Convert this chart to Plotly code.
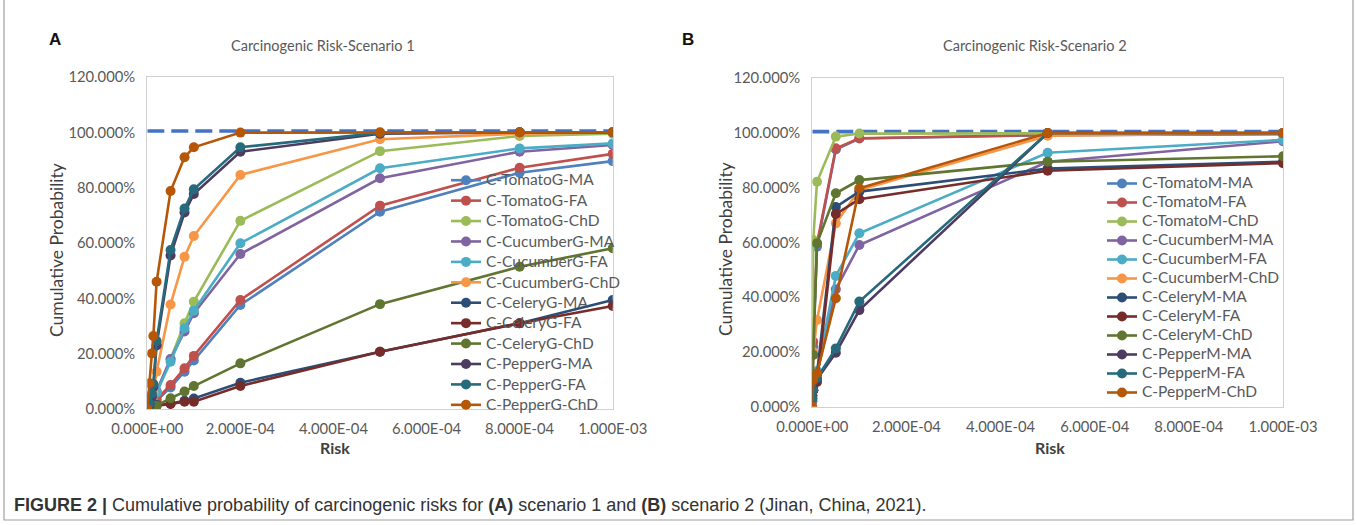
import plotly.graph_objects as go

W, H = 1357, 525

# ---------------- data ----------------
risk_A = [0, 5e-6, 1e-5, 1.3e-5, 2e-5, 5e-5, 8e-5, 1e-4, 2e-4, 5e-4, 8e-4, 1e-3]
names_A = ["C-TomatoG-MA", "C-TomatoG-FA", "C-TomatoG-ChD",
           "C-CucumberG-MA", "C-CucumberG-FA", "C-CucumberG-ChD",
           "C-CeleryG-MA", "C-CeleryG-FA", "C-CeleryG-ChD",
           "C-PepperG-MA", "C-PepperG-FA", "C-PepperG-ChD"]
tomatoG_MA = [0, 0.5, 1, 1.5, 3, 7.8, 13.5, 17.5, 37.6, 71.3, 85.4, 89.6]
tomatoG_FA = [0, 0.5, 1, 1.5, 3.5, 8.7, 14.7, 19.2, 39.4, 73.5, 87.2, 92.2]
tomatoG_ChD = [0, 1, 2, 3, 6, 18, 31, 38.8, 68, 93.2, 98.7, 99.5]
cucumberG_MA = [0, 1, 2, 3, 6.5, 18.1, 28, 34.6, 56, 83.4, 93, 95.4]
cucumberG_FA = [0, 1, 2, 3, 6, 17.1, 29.2, 35.5, 59.9, 87, 94.2, 96]
cucumberG_ChD = [0, 2, 4, 6, 13.5, 37.8, 55, 62.5, 84.6, 97.5, 99.5, 100]
celeryG_MA = [0, 0.3, 0.5, 0.8, 1.5, 2, 3, 3.8, 9.5, 20.7, 31, 39.4]
celeryG_FA = [0, 0.3, 0.5, 0.8, 1.2, 1.8, 2.6, 2.6, 8.3, 20.7, 31, 37.2]
celeryG_ChD = [0, 0.3, 0.6, 0.9, 1.2, 3.9, 6.3, 8.3, 16.5, 37.9, 51.4, 58.1]
pepperG_MA = [0, 1.5, 4.5, 8, 23, 55.5, 71, 77.7, 93, 99.5, 100, 100]
pepperG_FA = [0, 2, 5.5, 9, 24.6, 57.5, 72.5, 79.4, 94.6, 99.8, 100, 100]
pepperG_ChD = [0, 9.3, 20.1, 26.4, 46, 78.8, 91, 94.6, 99.9, 100, 100, 100]
values_A = [tomatoG_MA, tomatoG_FA, tomatoG_ChD, cucumberG_MA, cucumberG_FA, cucumberG_ChD,
            celeryG_MA, celeryG_FA, celeryG_ChD, pepperG_MA, pepperG_FA, pepperG_ChD]

risk_B = [0, 2e-6, 1e-5, 5e-5, 1e-4, 5e-4, 1e-3]
names_B = ["C-TomatoM-MA", "C-TomatoM-FA", "C-TomatoM-ChD",
           "C-CucumberM-MA", "C-CucumberM-FA", "C-CucumberM-ChD",
           "C-CeleryM-MA", "C-CeleryM-FA", "C-CeleryM-ChD",
           "C-PepperM-MA", "C-PepperM-FA", "C-PepperM-ChD"]
tomatoM_MA = [2, 22, 58.5, 94, 98, 99.2, 99.6]
tomatoM_FA = [4, 23.7, 59.7, 94.4, 98.1, 99.3, 99.7]
tomatoM_ChD = [3, 60.9, 82.2, 98.7, 99.8, 99.9, 100]
cucumberM_MA = [2, 6, 12, 42.9, 59.1, 89.5, 97]
cucumberM_FA = [3, 7, 13, 47.8, 63.4, 92.8, 97.5]
cucumberM_ChD = [8, 20, 31.7, 67, 79.2, 99, 100]
celeryM_MA = [4, 8, 12, 73, 78.6, 87, 89.5]
celeryM_FA = [4, 6, 9, 70.4, 75.8, 86.2, 89]
celeryM_ChD = [6, 18.9, 59.7, 78, 82.8, 89.5, 91.5]
pepperM_MA = [3, 6, 10, 19.7, 35.3, 100, 100]
pepperM_FA = [3, 6, 10.5, 21.3, 38.4, 100, 100]
pepperM_ChD = [0, 9.8, 12.2, 39.6, 79.8, 100, 100]
values_B = [tomatoM_MA, tomatoM_FA, tomatoM_ChD, cucumberM_MA, cucumberM_FA, cucumberM_ChD,
            celeryM_MA, celeryM_FA, celeryM_ChD, pepperM_MA, pepperM_FA, pepperM_ChD]

ref_x = [0, 1e-3]
ref_y = [100.5, 100.5]

x_tickvals = [0, 2e-4, 4e-4, 6e-4, 8e-4, 1e-3]
x_ticktext = ["0.000E+00", "2.000E-04", "4.000E-04", "6.000E-04", "8.000E-04", "1.000E-03"]
y_tickvals = [0, 0.2, 0.4, 0.6, 0.8, 1.0, 1.2]

# ---------------- styles ----------------
colors = ["#4F81BD", "#C0504D", "#9BBB59", "#8064A2", "#4BACC6", "#F79646",
          "#2C4D75", "#772C2A", "#5F7530", "#4D3B62", "#276A7C", "#B65708"]
FONT = "Lato, 'Open Sans', sans-serif"
GRAY = "#595959"


def px(x):
    return x / W


def py(y):
    return 1 - y / H


def leg_label(name):
    return '<span style="font-size:15.5px">' + name + '</span>'


fig = go.Figure()

for xa, ya in [("x", "y"), ("x2", "y2")]:
    fig.add_trace(go.Scatter(x=ref_x, y=[v / 100 for v in ref_y], mode="lines",
                             line=dict(color="#4472C4", width=3.6, dash="17px,7px"),
                             showlegend=False, hoverinfo="skip", xaxis=xa, yaxis=ya))

for name, vals, col in zip(names_A, values_A, colors):
    fig.add_trace(go.Scatter(
        x=risk_A, y=[v / 100 for v in vals], mode="lines+markers", name=leg_label(name),
        line=dict(color=col, width=2.6), marker=dict(size=10, color=col),
        xaxis="x", yaxis="y", legend="legend"))

for name, vals, col in zip(names_B, values_B, colors):
    fig.add_trace(go.Scatter(
        x=risk_B, y=[v / 100 for v in vals], mode="lines+markers", name=leg_label(name),
        line=dict(color=col, width=2.6), marker=dict(size=10, color=col),
        xaxis="x2", yaxis="y2", legend="legend2"))

axis_common = dict(showgrid=False, zeroline=False, showline=True, mirror=True,
                   linecolor="#D0D0D0", linewidth=1.2, ticks="", automargin=False,
                   tickfont=dict(family=FONT, size=14.8, color=GRAY))

fig.update_layout(
    template="none",
    width=W, height=H,
    margin=dict(l=0, r=0, t=0, b=0, autoexpand=False),
    paper_bgcolor="white", plot_bgcolor="white",
    font=dict(family=FONT, color=GRAY),
    xaxis=dict(domain=[px(147.3), px(612.7)], range=[0, 1e-3], tickvals=x_tickvals,
               ticktext=x_ticktext, anchor="y", ticklabelstandoff=6, **axis_common),
    yaxis=dict(domain=[py(409), py(77)], range=[0, 1.2], tickvals=y_tickvals,
               tickformat=".3%", anchor="x", ticklabelstandoff=8, **axis_common),
    xaxis2=dict(domain=[px(812.3), px(1283)], range=[0, 1e-3], tickvals=x_tickvals,
                ticktext=x_ticktext, anchor="y2", ticklabelstandoff=6, **axis_common),
    yaxis2=dict(domain=[py(406.7), py(78.3)], range=[0, 1.2], tickvals=y_tickvals,
                tickformat=".3%", anchor="x2", ticklabelstandoff=8, **axis_common),
    legend=dict(x=px(446), y=py(165), xanchor="left", yanchor="top",
                bgcolor="rgba(0,0,0,0)", font=dict(family=FONT, size=13.4, color=GRAY),
                itemclick=False),
    legend2=dict(x=px(1102), y=py(169), xanchor="left", yanchor="top",
                 bgcolor="rgba(0,0,0,0)", font=dict(family=FONT, size=11.6, color=GRAY),
                 itemclick=False),
    showlegend=True,
)

ann = []
ann.append(dict(text="<b>A</b>", x=px(55), y=py(40), font=dict(family="Liberation Sans, Arial", size=17, color="#111")))
ann.append(dict(text="<b>B</b>", x=px(688), y=py(40), font=dict(family="Liberation Sans, Arial", size=17, color="#111")))
ann.append(dict(text="Carcinogenic Risk-Scenario 1", x=px(323), y=py(45), font=dict(family=FONT, size=14.5, color=GRAY)))
ann.append(dict(text="Carcinogenic Risk-Scenario 2", x=px(1035), y=py(45), font=dict(family=FONT, size=14.5, color=GRAY)))
ann.append(dict(text="Cumulative Probability", x=px(56), y=py(250), textangle=-90, font=dict(family=FONT, size=17.5, color="#404040")))
ann.append(dict(text="Cumulative Probability", x=px(725), y=py(249), textangle=-90, font=dict(family=FONT, size=17.5, color="#404040")))
ann.append(dict(text="<b>Risk</b>", x=px(335), y=py(447), font=dict(family=FONT, size=16, color="#404040")))
ann.append(dict(text="<b>Risk</b>", x=px(1050), y=py(447), font=dict(family=FONT, size=16, color="#404040")))
ann.append(dict(text="<b>FIGURE 2 |</b> Cumulative probability of carcinogenic risks for <b>(A)</b> scenario 1 and <b>(B)</b> scenario 2 (Jinan, China, 2021).",
                x=px(12), y=py(505), xanchor="left",
                font=dict(family="'Liberation Sans', Arial", size=18, color="#333")))
for a in ann:
    a.setdefault("xanchor", "center")
    a.update(xref="paper", yref="paper", yanchor="middle", showarrow=False)
fig.update_layout(annotations=ann)

fig.add_shape(type="rect", xref="paper", yref="paper", x0=px(4), x1=px(1353), y0=py(520), y1=py(-5),
              line=dict(color="#A0A0A0", width=1.2), fillcolor="rgba(0,0,0,0)", layer="below")

fig.write_html("out.html", config={"displayModeBar": False},
               post_script="document.body.style.margin='0px';")
